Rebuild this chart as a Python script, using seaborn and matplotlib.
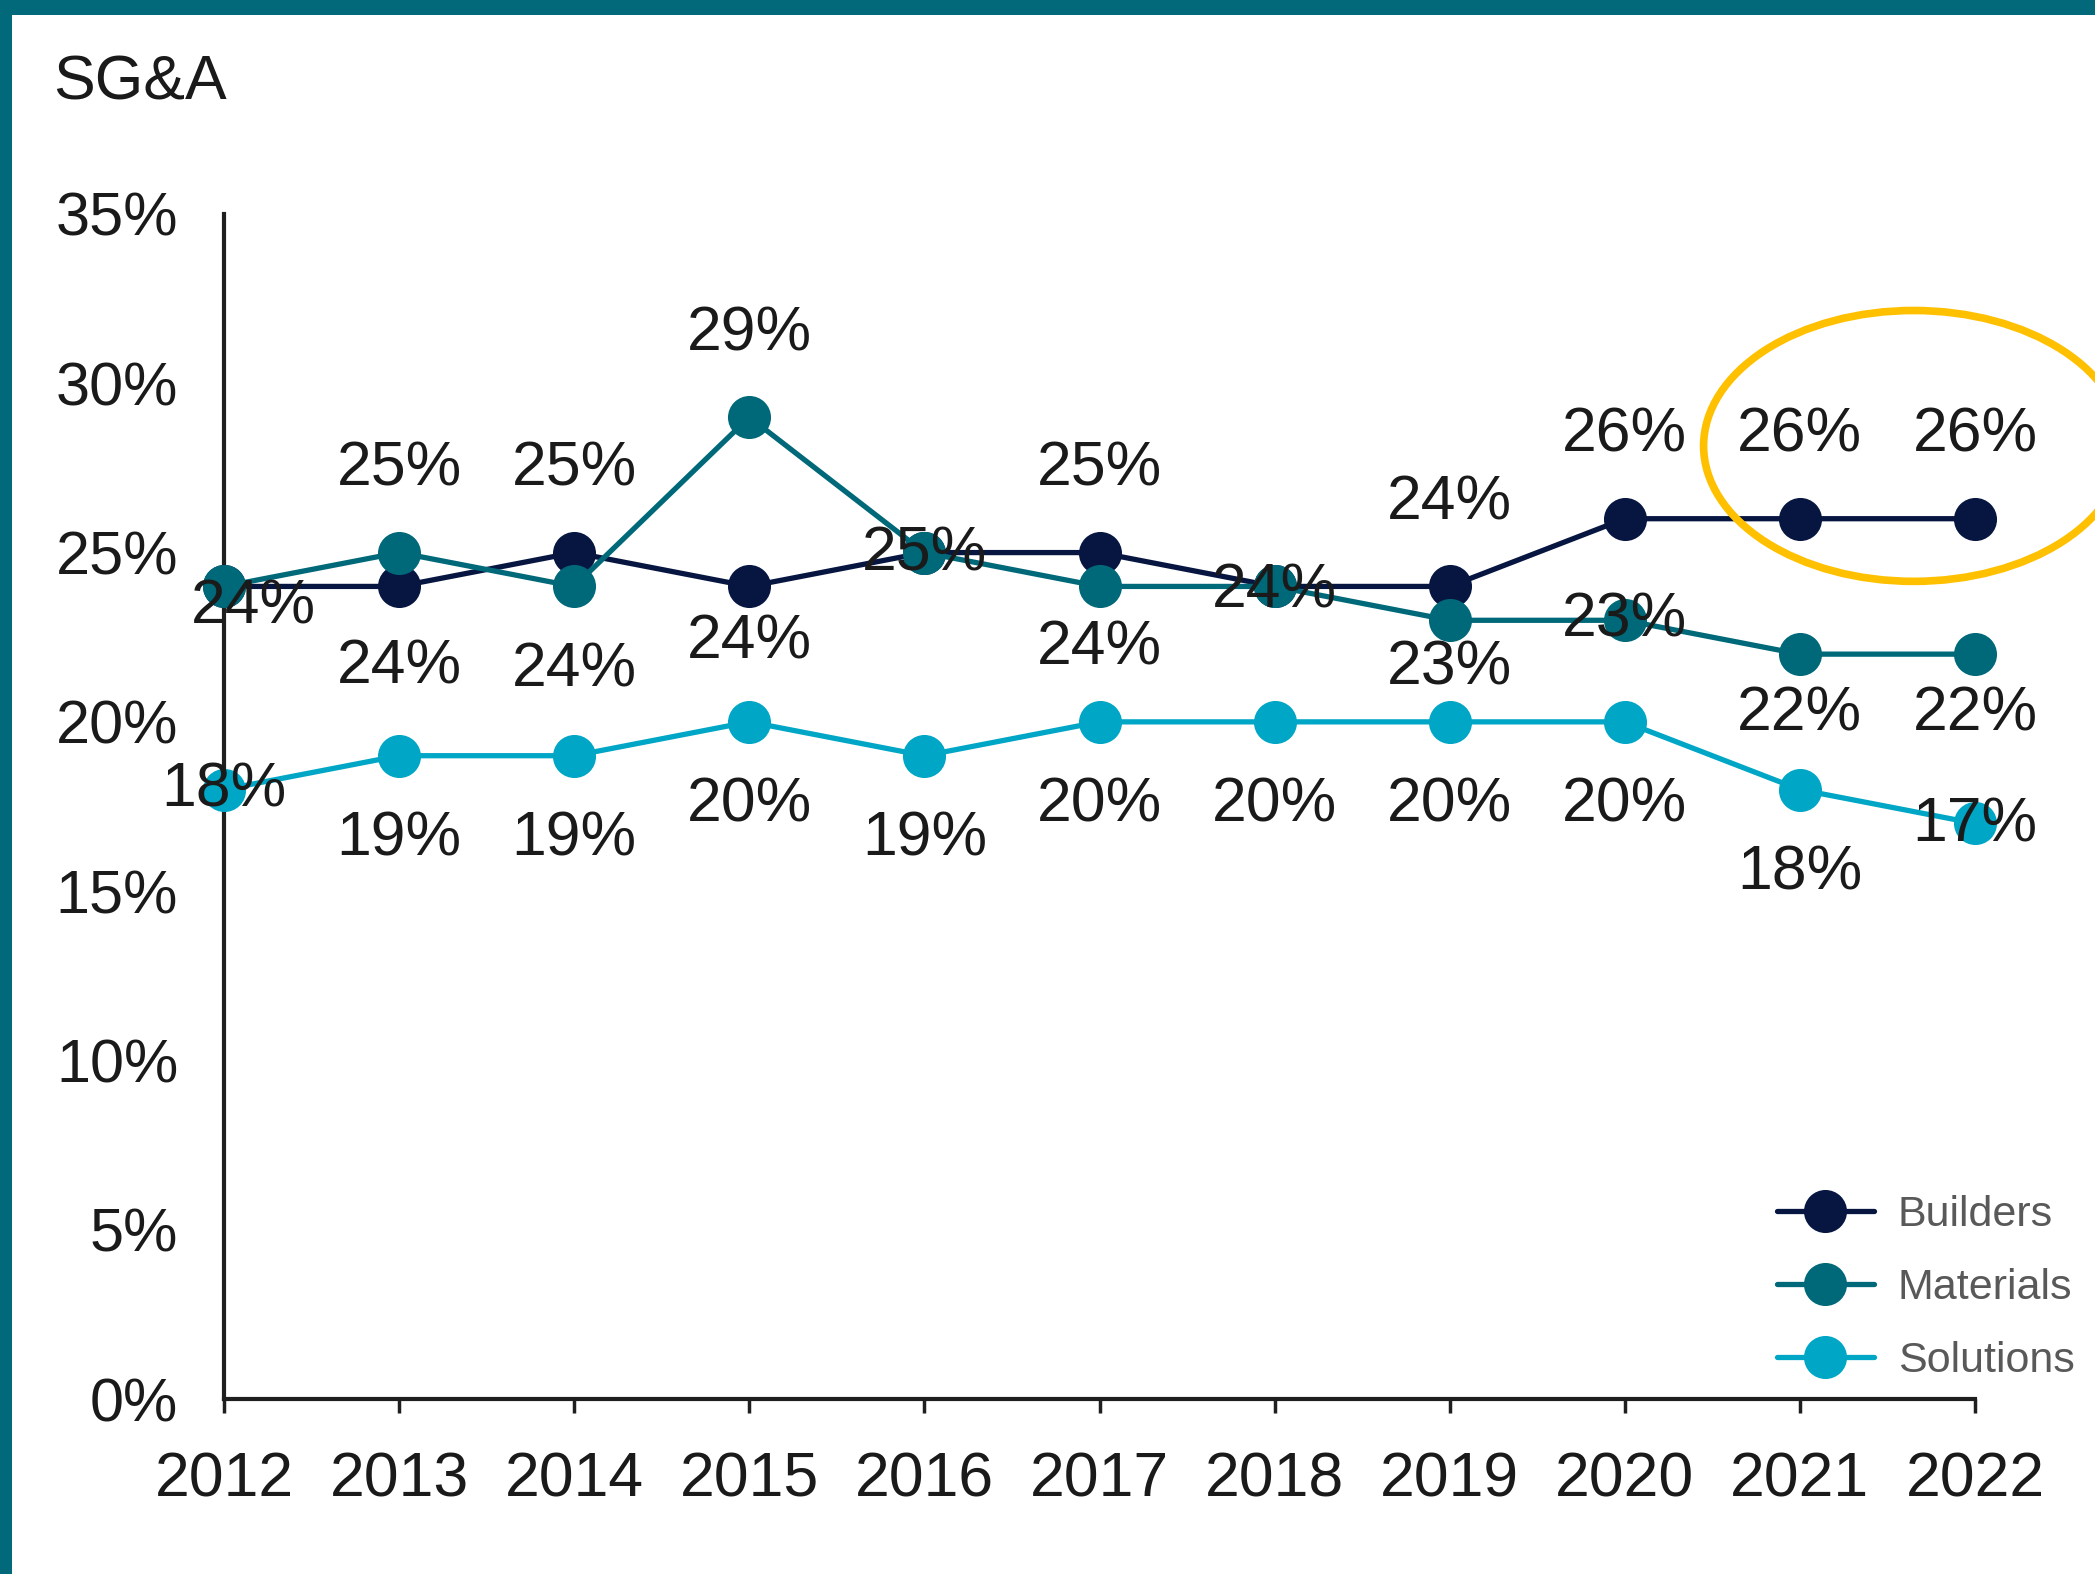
import matplotlib
matplotlib.use("Agg")
import matplotlib.pyplot as plt
import seaborn as sns
import pandas as pd
from matplotlib.patches import Ellipse, Rectangle

# ---- data ----
years = [2012, 2013, 2014, 2015, 2016, 2017, 2018, 2019, 2020, 2021, 2022]
series_names = ["Builders", "Materials", "Solutions"]
builders = [24, 24, 25, 24, 25, 25, 24, 24, 26, 26, 26]
materials = [24, 25, 24, 29, 25, 24, 24, 23, 23, 22, 22]
solutions = [18, 19, 19, 20, 19, 20, 20, 20, 20, 18, 17]
y_ticks = [0, 5, 10, 15, 20, 25, 30, 35]
title = "SG&A"

# label placement (offset in points: dx, dy), None = no label
builders_lbl = [(21, -15), (0, -58), (0, 60), (0, -40), (0, -1), (0, 60), (0, -3), (0, 60), (0, 60), (0, 60), (0, 60)]
materials_lbl = [None, (0, 60), (0, -60), (0, 60), None, (0, -44), None, (0, -34), (0, 0), (0, -43), (0, -43)]
solutions_lbl = [(0, 0), (0, -60), (0, -60), (0, -60), (0, -60), (0, -60), (0, -60), (0, -60), (0, -60), (0, -60), (0, -1)]

colors = ["#061641", "#006979", "#00A6C6"]

df = pd.DataFrame({
    "year": years * 3,
    "value": builders + materials + solutions,
    "series": [series_names[0]] * len(years) + [series_names[1]] * len(years) + [series_names[2]] * len(years),
})

sns.set_theme(style="white")
plt.rcParams["font.family"] = ["Liberation Sans", "DejaVu Sans"]

fig = plt.figure(figsize=(20.95, 15.74), dpi=100)
ax = fig.add_axes([224 / 2095, 1 - 1399 / 1574, (1975 - 224) / 2095, (1399 - 214) / 1574])

sns.lineplot(data=df, x="year", y="value", hue="series", hue_order=series_names,
             palette=colors, marker="o", markersize=31, markeredgewidth=0,
             linewidth=3.8, ax=ax, legend=False)
for ln in ax.lines:
    ln.set_clip_on(False)

ax.set_xlim(years[0], years[-1])
ax.set_ylim(0, 35)
ax.set_xticks(years)
ax.set_xticklabels([str(y) for y in years])
ax.set_yticks(y_ticks)
ax.set_yticklabels([f"{t}%" for t in y_ticks])
ax.set_xlabel("")
ax.set_ylabel("")

for s in ["top", "right"]:
    ax.spines[s].set_visible(False)
for s in ["left", "bottom"]:
    ax.spines[s].set_color("#1f1f1f")
    ax.spines[s].set_linewidth(3)
    ax.spines[s].set_zorder(1)

ax.tick_params(axis="x", which="major", direction="out", length=10, width=2.5, color="#1f1f1f",
               labelsize=45, pad=27, labelcolor="#1a1a1a", bottom=True)
ax.tick_params(axis="y", which="major", length=0, labelsize=44, pad=33, labelcolor="#1a1a1a", left=False)

# data labels
for vals, lbls in [(builders, builders_lbl), (materials, materials_lbl), (solutions, solutions_lbl)]:
    for x, v, off in zip(years, vals, lbls):
        if off is None:
            continue
        ax.annotate(f"{v}%", (x, v), xytext=off, textcoords="offset points",
                    ha="center", va="center", fontsize=45, color="#1a1a1a",
                    annotation_clip=False, zorder=5)

# highlight ellipse
ax.add_patch(Ellipse((2021.65, 28.15), 2.40, 8.0, fill=False, edgecolor="#FFC000",
                     linewidth=5.5, clip_on=False, zorder=6))

# legend
leg = ax.legend(ax.lines[:3], series_names, loc="center left",
                bbox_to_anchor=(1777 / 2095, 1 - 1288 / 1574), bbox_transform=fig.transFigure,
                frameon=False, fontsize=31, handlelength=2.25, handletextpad=0.55,
                labelspacing=0.77, borderpad=0, borderaxespad=0)
for t in leg.get_texts():
    t.set_color("#595959")

# title
fig.text(53 / 2095, 1 - 100 / 1574, title, fontsize=45, color="#1a1a1a", ha="left", va="baseline")

# border
fig.patches.append(Rectangle((0, 1 - 15 / 1574), 1, 15 / 1574, transform=fig.transFigure,
                             facecolor="#02697A", edgecolor="none", zorder=10))
fig.patches.append(Rectangle((0, 0), 12 / 2095, 1, transform=fig.transFigure,
                             facecolor="#02697A", edgecolor="none", zorder=10))

fig.savefig("out.png", dpi=100)
